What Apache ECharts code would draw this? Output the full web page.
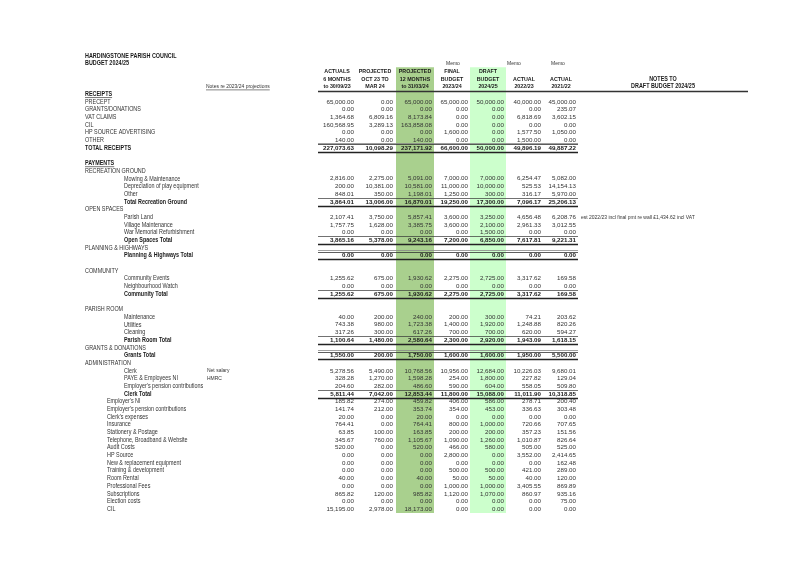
<!DOCTYPE html>
<html>
<head>
<meta charset="utf-8">
<script src="https://cdn.jsdelivr.net/npm/echarts@6/dist/echarts.min.js"></script>
<style>
  html, body { margin: 0; background: #fff; }
  #chart { width: 800px; height: 565px; }
</style>
</head>
<body>
<div id="chart"></div>
<script>
const _ = null;

const sheetTitle = "HARDINGSTONE PARISH COUNCIL";
const sheetSubtitle = "BUDGET 2024/25";
const columnHeaders = [
  ["ACTUALS", "6 MONTHS", "to 30/09/23"],
  ["PROJECTED", "OCT 23 TO", "MAR 24"],
  ["PROJECTED", "12 MONTHS", "to 31/03/24"],
  ["FINAL", "BUDGET", "2023/24"],
  ["DRAFT", "BUDGET", "2024/25"],
  ["", "ACTUAL", "2022/23"],
  ["", "ACTUAL", "2021/22"]
];
const memoLabels = ["Memo", "Memo", "Memo"];
const notesHeader = ["NOTES TO", "DRAFT BUDGET 2024/25"];
const projectionNote = "Notes re 2023/24 projections";

const labels = [
  "PRECEPT", "GRANTS/DONATIONS", "VAT CLAIMS", "CIL", "HP SOURCE ADVERTISING", "OTHER", "TOTAL RECEIPTS",
  "", "PAYMENTS", "RECREATION GROUND",
  "Mowing & Maintenance", "Depreciation of play equipment", "Other", "Total Recreation Ground",
  "OPEN SPACES", "Parish Land", "Village Maintenance", "War Memorial Refurbishment", "Open Spaces Total",
  "PLANNING & HIGHWAYS", "Planning & Highways Total", "",
  "COMMUNITY", "Community Events", "Neighbourhood Watch", "Community Total", "",
  "PARISH ROOM", "Maintenance", "Utilities", "Cleaning", "Parish Room Total",
  "GRANTS & DONATIONS", "Grants Total",
  "ADMINISTRATION", "Clerk", "PAYE & Employees NI", "Employer's pension contributions", "Clerk Total",
  "Employer's NI", "Employer's pension contributions", "Clerk's expenses", "Insurance", "Stationery & Postage",
  "Telephone, Broadband & Website", "Audit Costs", "HP Source", "New & replacement equipment",
  "Training & development", "Room Rental", "Professional Fees", "Subscriptions", "Election costs", "CIL"
];

// row kind: cap = top-level line, head = underlined heading, sec = section, item / item2 = detail,
// total / grand / total2 = total rows, blank = spacer
const rowKinds = [
  "cap", "cap", "cap", "cap", "cap", "cap", "grand",
  "blank", "head", "sec",
  "item", "item", "item", "total",
  "sec", "item", "item", "item", "total",
  "sec", "total2", "blank",
  "sec", "item", "item", "total", "blank",
  "sec", "item", "item", "item", "total",
  "sec", "total2",
  "sec", "item", "item", "item", "total",
  "item2", "item2", "item2", "item2", "item2", "item2", "item2", "item2", "item2",
  "item2", "item2", "item2", "item2", "item2", "item2"
];

const actuals6m = [65000, 0, 1364.68, 160568.95, 0, 140, 227073.63, _, _, _,
  2816, 200, 848.01, 3864.01, _, 2107.41, 1757.75, 0, 3865.16, _, 0, _, _,
  1255.62, 0, 1255.62, _, _, 40, 743.38, 317.26, 1100.64, _, 1550, _,
  5278.56, 328.28, 204.60, 5811.44, 185.82, 141.74, 20, 764.41, 63.85, 345.67, 520,
  0, 0, 0, 40, 0, 865.82, 0, 15195];
const projectedOctMar = [0, 0, 6809.16, 3289.13, 0, 0, 10098.29, _, _, _,
  2275, 10381, 350, 13006, _, 3750, 1628, 0, 5378, _, 0, _, _,
  675, 0, 675, _, _, 200, 980, 300, 1480, _, 200, _,
  5490, 1270, 282, 7042, 274, 212, 0, 0, 100, 760, 0,
  0, 0, 0, 0, 0, 120, 0, 2978];
const projected12m = [65000, 0, 8173.84, 163858.08, 0, 140, 237171.92, _, _, _,
  5091, 10581, 1198.01, 16870.01, _, 5857.41, 3385.75, 0, 9243.16, _, 0, _, _,
  1930.62, 0, 1930.62, _, _, 240, 1723.38, 617.26, 2580.64, _, 1750, _,
  10768.56, 1598.28, 486.60, 12853.44, 459.82, 353.74, 20, 764.41, 163.85, 1105.67, 520,
  0, 0, 0, 40, 0, 985.82, 0, 18173];
const finalBudget2324 = [65000, 0, 0, 0, 1600, 0, 66600, _, _, _,
  7000, 11000, 1250, 19250, _, 3600, 3600, 0, 7200, _, 0, _, _,
  2275, 0, 2275, _, _, 200, 1400, 700, 2300, _, 1600, _,
  10956, 254, 590, 11800, 406, 354, 0, 800, 200, 1090, 466,
  2800, 0, 500, 50, 1000, 1120, 0, 0];
const draftBudget2425 = [50000, 0, 0, 0, 0, 0, 50000, _, _, _,
  7000, 10000, 300, 17300, _, 3250, 2100, 1500, 6850, _, 0, _, _,
  2725, 0, 2725, _, _, 300, 1920, 700, 2920, _, 1600, _,
  12684, 1800, 604, 15088, 586, 453, 0, 1000, 200, 1260, 580,
  0, 0, 500, 50, 1000, 1070, 0, 0];
const actual2223 = [40000, 0, 6818.69, 0, 1577.50, 1500, 49896.19, _, _, _,
  6254.47, 525.53, 316.17, 7096.17, _, 4656.48, 2961.33, 0, 7617.81, _, 0, _, _,
  3317.62, 0, 3317.62, _, _, 74.21, 1248.88, 620, 1943.09, _, 1950, _,
  10226.03, 227.82, 558.05, 11011.90, 278.71, 336.63, 0, 720.66, 357.23, 1010.87, 505,
  3552, 0, 421, 40, 3405.55, 860.97, 0, 0];
const actual2122 = [45000, 235.07, 3602.15, 0, 1050, 0, 49887.22, _, _, _,
  5082, 14154.13, 5970, 25206.13, _, 6208.76, 3012.55, 0, 9221.31, _, 0, _, _,
  169.58, 0, 169.58, _, _, 203.62, 820.26, 594.27, 1618.15, _, 5500, _,
  9680.01, 129.04, 509.80, 10318.85, 200.40, 303.48, 0, 707.65, 151.56, 826.64, 525,
  2414.65, 162.48, 289, 120, 869.89, 935.16, 75, 0];

const valueColumns = [actuals6m, projectedOctMar, projected12m, finalBudget2324, draftBudget2425, actual2223, actual2122];
const sideNotes = { 35: "Net salary", 36: "HMRC" };
const budgetNotes = { 15: "est 2022/23 incl final pmt re wall \u00a31,434.62 incl VAT" };

// layout
const FONT = '"Liberation Sans", Arial, sans-serif';
const BODY_START = 6;
const numRight = [354, 393, 432, 468, 504, 541, 576];
const colCenter = [337, 375, 415, 452, 488, 524, 561];
const memoX = [446, 507, 551];
const indentX = { cap: 85, head: 85, sec: 85, grand: 85, item: 124, total: 124, total2: 124, item2: 107 };
const shadeCols = [
  { x0: 396, x1: 434, color: "#a9d08e" },
  { x0: 470, x1: 506, color: "#ccffcc" }
];
const ruleX = [318, 578];
const SQUEEZE = 0.86; // narrow the labels a little, like the sheet's condensed face
const INK = "#333";
const INK_BOLD = "#1a1a1a";

const rowCount = BODY_START + labels.length;
const rowIds = Array.from({ length: rowCount }, (_v, i) => String(i));

function fmt(v) {
  const s = Math.abs(v).toFixed(2).split(".");
  return (v < 0 ? "-" : "") + s[0].replace(/\B(?=(\d{3})+(?!\d))/g, ",") + "." + s[1];
}

const cells = [];
function addText(x, row, text, opts) {
  cells.push(Object.assign({ x, row, text, align: "left", bold: false, size: 6.3, underline: false, color: INK, squeeze: SQUEEZE }, opts || {}));
}

addText(85, 0, sheetTitle, { bold: true, color: INK_BOLD });
addText(85, 1, sheetSubtitle, { bold: true, color: INK_BOLD });
memoLabels.forEach((m, i) => addText(memoX[i], 1, m, { size: 5.8 }));
columnHeaders.forEach((lines, c) => {
  lines.forEach((t, k) => {
    if (t) addText(colCenter[c], 2 + k, t, { align: "center", bold: true, size: 6.2, color: INK_BOLD });
  });
});
addText(663, 3, notesHeader[0], { align: "center", bold: true, color: INK_BOLD });
addText(663, 4, notesHeader[1], { align: "center", bold: true, color: INK_BOLD });
addText(206, 4, projectionNote, { underline: true, size: 5.8 });
addText(85, 5, "RECEIPTS", { bold: true, underline: true, color: INK_BOLD });

labels.forEach((label, i) => {
  const kind = rowKinds[i];
  const row = BODY_START + i;
  if (kind === "blank") return;
  const isTotal = kind === "total" || kind === "grand" || kind === "total2";
  const bold = isTotal || kind === "head";
  addText(indentX[kind], row, label, { bold, underline: kind === "head", color: bold ? INK_BOLD : INK });
  valueColumns.forEach((col, c) => {
    if (col[i] == null) return;
    addText(numRight[c], row, fmt(col[i]), { align: "right", bold: isTotal, size: 6.2, squeeze: 1, color: isTotal ? INK_BOLD : INK });
  });
  if (sideNotes[i]) addText(207, row, sideNotes[i], { size: 5.8 });
  if (budgetNotes[i]) addText(581, row, budgetNotes[i], { size: 5.8 });
});

// horizontal rules
const rules = [{ x0: 318, x1: 748, row: 4, edge: 1, off: 0.5, width: 1.6, color: "#333" }];
rowKinds.forEach((kind, i) => {
  const row = BODY_START + i;
  if (kind === "total") {
    rules.push({ x0: ruleX[0], x1: ruleX[1], row, edge: -1, off: 0, width: 0.7, color: "#333" });
    rules.push({ x0: ruleX[0], x1: ruleX[1], row, edge: 1, off: 0, width: 1.6, color: "#222" });
  } else if (kind === "grand" || kind === "total2") {
    rules.push({ x0: ruleX[0], x1: ruleX[1], row, edge: -1, off: -1.6, width: 0.8, color: "#888" });
    rules.push({ x0: ruleX[0], x1: ruleX[1], row, edge: -1, off: 0, width: 0.8, color: "#333" });
    rules.push({ x0: ruleX[0], x1: ruleX[1], row, edge: 1, off: 0, width: 1.6, color: "#222" });
  }
});

const measureCtx = document.createElement("canvas").getContext("2d");
function textWidth(c) {
  measureCtx.font = (c.bold ? "bold " : "") + c.size + "px " + FONT;
  return measureCtx.measureText(c.text).width * c.squeeze;
}

const chart = echarts.init(document.getElementById("chart"), null, { renderer: "canvas" });

chart.setOption({
  animation: false,
  backgroundColor: "#ffffff",
  grid: { left: 0, right: 0, top: 52, height: 461 },
  xAxis: { type: "value", min: 0, max: 800, show: false },
  yAxis: { type: "category", data: rowIds, inverse: true, show: false },
  series: [
    {
      type: "custom",
      z: 1,
      data: shadeCols.map((s) => [s.x0, 2]),
      renderItem(params, api) {
        const s = shadeCols[params.dataIndex];
        const h = api.size([0, 1])[1];
        const p0 = api.coord([s.x0, 2]);
        const p1 = api.coord([s.x1, rowCount - 1]);
        return {
          type: "rect",
          shape: { x: p0[0], y: p0[1] - h / 2, width: p1[0] - p0[0], height: p1[1] - p0[1] + h },
          style: { fill: s.color }
        };
      }
    },
    {
      type: "custom",
      z: 2,
      data: rules.map((r) => [r.x0, r.row]),
      renderItem(params, api) {
        const r = rules[params.dataIndex];
        const h = api.size([0, 1])[1];
        const p0 = api.coord([r.x0, r.row]);
        const p1 = api.coord([r.x1, r.row]);
        const y = Math.round(p0[1] + r.edge * h / 2 + r.off) + 0.5;
        return {
          type: "line",
          shape: { x1: p0[0], y1: y, x2: p1[0], y2: y },
          style: { stroke: r.color, lineWidth: r.width }
        };
      }
    },
    {
      type: "custom",
      z: 3,
      data: cells.map((c) => [c.x, c.row]),
      renderItem(params, api) {
        const c = cells[params.dataIndex];
        const p = api.coord([c.x, c.row]);
        const children = [{
          type: "text",
          x: p[0],
          y: p[1],
          scaleX: c.squeeze,
          style: {
            text: c.text,
            textAlign: c.align,
            textVerticalAlign: "middle",
            fontFamily: FONT,
            fontSize: c.size,
            fontWeight: c.bold ? "bold" : "normal",
            fill: c.color
          }
        }];
        if (c.underline) {
          const w = textWidth(c);
          children.push({
            type: "line",
            shape: { x1: p[0], y1: p[1] + 3.3, x2: p[0] + w, y2: p[1] + 3.3 },
            style: { stroke: c.color, lineWidth: 0.6 }
          });
        }
        return { type: "group", children };
      }
    }
  ]
});
</script>
</body>
</html>
